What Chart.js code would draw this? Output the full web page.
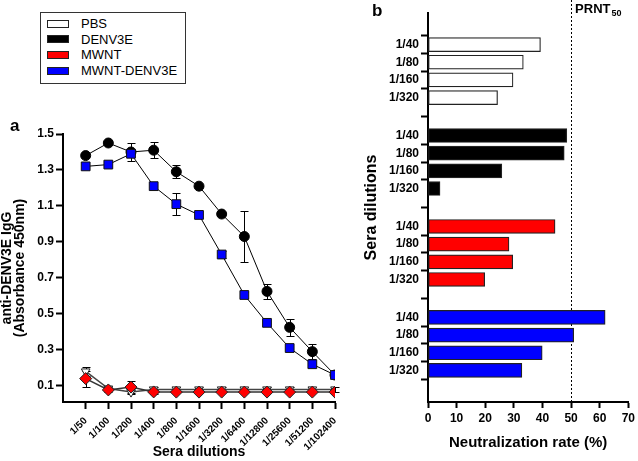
<!DOCTYPE html>
<html>
<head>
<meta charset="utf-8">
<script src="https://cdn.jsdelivr.net/npm/chart.js@4.4.1/dist/chart.umd.min.js"></script>
<style>
  body { margin: 0; width: 638px; height: 461px; background: #fff; position: relative; overflow: hidden;
         font-family: 'Liberation Sans', Arial, sans-serif; }
  #wrapA { position: absolute; left: 0; top: 0; width: 370px; height: 461px; }
  #wrapB { position: absolute; left: 362px; top: 0; width: 276px; height: 461px; }
  .panel { position: absolute; font-weight: bold; font-size: 17px; line-height: 17px; }
  #legend { position: absolute; left: 40px; top: 12px; width: 144px; height: 70px; border: 1px solid #333;
            font-size: 13px; background: #fff; }
  #legend .row { position: absolute; left: 6px; height: 16px; line-height: 16px; white-space: nowrap; }
  #legend .sw { display: inline-block; width: 20px; height: 6px; border: 1px solid #222; vertical-align: middle;
                margin-right: 12px; position: relative; top: -1px; }
</style>
</head>
<body>
<div id="wrapA"><canvas id="chartA"></canvas></div>
<div id="wrapB"><canvas id="chartB"></canvas></div>
<div class="panel" style="left:10px; top:117px;">a</div>
<div class="panel" style="left:372px; top:2px;">b</div>
<div id="legend"></div>

<script>
// ---- data, panel a (ELISA) ----
const dilutions = ['1/50', '1/100', '1/200', '1/400', '1/800', '1/1600', '1/3200', '1/6400',
                   '1/12800', '1/25600', '1/51200', '1/102400'];
const denv3e = [1.38, 1.45, 1.40, 1.41, 1.29, 1.21, 1.055, 0.93, 0.625, 0.425, 0.29, 0.16];
const denv3eErr = [0, 0, 0.05, 0.045, 0.037, 0, 0, 0.14, 0.04, 0.046, 0.042, 0];
const mwntDenv3e = [1.32, 1.33, 1.39, 1.21, 1.11, 1.05, 0.83, 0.605, 0.45, 0.31, 0.22, 0.16];
const mwntDenv3eErr = [0, 0, 0, 0, 0.06, 0, 0.02, 0.015, 0, 0, 0, 0];
const pbs = [0.18, 0.085, 0.065, 0.08, 0.08, 0.08, 0.08, 0.08, 0.08, 0.08, 0.08, 0.08];
const pbsErr = [0.025, 0.01, 0.01, 0.012, 0.012, 0.012, 0.012, 0.012, 0.012, 0.012, 0.012, 0.012];
const mwnt = [0.14, 0.077, 0.093, 0.066, 0.065, 0.065, 0.065, 0.065, 0.065, 0.065, 0.065, 0.065];
const mwntErr = [0.045, 0.01, 0.035, 0.01, 0, 0, 0, 0, 0, 0, 0, 0];
const yTicksA = [0.1, 0.3, 0.5, 0.7, 0.9, 1.1, 1.3, 1.5];

// ---- data, panel b (PRNT) ----
const groups = ['PBS', 'DENV3E', 'MWNT', 'MWNT-DENV3E'];
const groupColors = ['#ffffff', '#000000', '#ff0000', '#0000ff'];
const prntDilutions = ['1/40', '1/80', '1/160', '1/320'];
const neutPBS = [39.3, 33.3, 29.7, 24.3];
const neutDENV3E = [48.5, 47.6, 25.8, 4.2];
const neutMWNT = [44.4, 28.3, 29.6, 19.8];
const neutMWNTDENV3E = [61.9, 50.9, 39.9, 32.8];
const prntCutoff = 50;

Chart.defaults.font.family = "'Liberation Sans', Arial, sans-serif";
Chart.defaults.color = '#000';

// legend (shared by both panels)
var legendHtml = '';
groups.forEach(function (g, i) {
    legendHtml += '<div class="row" style="top:' + (3 + i * 15.7) + 'px"><span class="sw" style="background:' +
        groupColors[i] + '"></span>' + g + '</div>';
});
document.getElementById('legend').innerHTML = legendHtml;

const pts = (arr) => arr.map((v, i) => ({ x: i, y: v }));

const errorBars = {
    id: 'errorBars',
    beforeDatasetsDraw(chart) {
        const ctx = chart.ctx;
        const ys = chart.scales.y;
        ctx.save();
        ctx.lineWidth = 1;
        ctx.strokeStyle = '#000';
        chart.data.datasets.forEach((ds, di) => {
            if (!ds.errors) return;
            chart.getDatasetMeta(di).data.forEach((pt, i) => {
                const e = ds.errors[i];
                if (!e) return;
                const v = ds.data[i].y;
                const top = Math.round(ys.getPixelForValue(v + e)) + 0.5;
                const bot = Math.round(ys.getPixelForValue(v - e)) + 0.5;
                const x = Math.round(pt.x) + 0.5;
                ctx.beginPath();
                ctx.moveTo(x, top); ctx.lineTo(x, bot);
                ctx.moveTo(x - 4, top); ctx.lineTo(x + 4, top);
                ctx.moveTo(x - 4, bot); ctx.lineTo(x + 4, bot);
                ctx.stroke();
            });
        });
        ctx.restore();
    }
};

const axisGrid = {
    drawOnChartArea: false,
    drawTicks: true,
    tickLength: 7,
    tickWidth: 2,
    tickColor: '#000'
};

new Chart(document.getElementById('chartA').getContext('2d'), {
    type: 'line',
    data: {
        datasets: [
            {
                label: 'MWNT', data: pts(mwnt), errors: mwntErr, order: 1,
                borderColor: '#333', borderWidth: 1.5, pointStyle: 'rectRot', pointRadius: 6,
                pointBackgroundColor: '#ff0000', pointBorderColor: '#222', pointBorderWidth: 1
            },
            {
                label: 'PBS', data: pts(pbs), errors: pbsErr, order: 2,
                borderColor: '#444', borderWidth: 1.5, pointStyle: 'triangle', pointRotation: 180, pointRadius: 5,
                pointBackgroundColor: '#ffffff', pointBorderColor: '#222', pointBorderWidth: 1
            },
            {
                label: 'MWNT-DENV3E', data: pts(mwntDenv3e), errors: mwntDenv3eErr, order: 3,
                borderColor: '#000', borderWidth: 1, pointStyle: 'rect', pointRadius: 6.2,
                pointBackgroundColor: '#0000ff', pointBorderColor: '#111', pointBorderWidth: 1
            },
            {
                label: 'DENV3E', data: pts(denv3e), errors: denv3eErr, order: 4,
                borderColor: '#000', borderWidth: 1, pointStyle: 'circle', pointRadius: 5,
                pointBackgroundColor: '#000', pointBorderColor: '#000', pointBorderWidth: 1
            }
        ]
    },
    options: {
        responsive: true,
        maintainAspectRatio: false,
        animation: false,
        layout: { padding: { top: 134, left: 0, right: 35, bottom: 0 } },
        scales: {
            x: {
                type: 'linear',
                min: -1,
                max: 11,
                afterBuildTicks: (s) => { s.ticks = dilutions.map((d, i) => ({ value: i })); },
                afterFit: (s) => { s.height = 59; },
                ticks: {
                    autoSkip: false,
                    maxRotation: 45,
                    minRotation: 45,
                    padding: 6,
                    font: { size: 10, weight: 'bold' },
                    callback: (v, i) => dilutions[i]
                },
                grid: axisGrid,
                border: { color: '#000', width: 2 },
                title: {
                    display: true,
                    text: 'Sera dilutions',
                    font: { size: 14, weight: 'bold' },
                    padding: { top: 0, bottom: 0 }
                }
            },
            y: {
                min: 0.01,
                max: 1.5,
                afterBuildTicks: (s) => { s.ticks = yTicksA.map((v) => ({ value: v })); },
                afterFit: (s) => { s.width = 63; },
                ticks: {
                    padding: 2,
                    font: { size: 12, weight: 'bold' },
                    callback: (v) => v.toFixed(1)
                },
                grid: axisGrid,
                border: { color: '#000', width: 2 },
                title: {
                    display: true,
                    text: ['anti-DENV3E IgG', '(Absorbance 450nm)'],
                    font: { size: 14, weight: 'bold', lineHeight: 0.93 },
                    padding: { top: 1, bottom: 0 }
                }
            }
        },
        plugins: {
            legend: { display: false },
            tooltip: { enabled: false }
        }
    },
    plugins: [errorBars]
});

// ---- panel b ----
const groupStep = 5.15;
const rowPos = (g, r) => g * groupStep + r;
const neutSeries = [neutPBS, neutDENV3E, neutMWNT, neutMWNTDENV3E];
const rowTicks = [];
const rowLabels = [];
groups.forEach((g, gi) => {
    prntDilutions.forEach((d, ri) => {
        rowTicks.push(rowPos(gi, ri));
        rowLabels.push(d);
    });
});

const prntLine = {
    id: 'prntLine',
    beforeDatasetsDraw(chart) {
        const ctx = chart.ctx;
        const x = Math.round(chart.scales.x.getPixelForValue(prntCutoff)) + 0.5;
        ctx.save();
        ctx.strokeStyle = '#000';
        ctx.lineWidth = 1;
        ctx.setLineDash([2, 2]);
        ctx.beginPath();
        ctx.moveTo(x, 0);
        ctx.lineTo(x, chart.chartArea.bottom);
        ctx.stroke();
        ctx.restore();
    },
    afterDraw(chart) {
        const ctx = chart.ctx;
        const x = chart.scales.x.getPixelForValue(prntCutoff) + 4;
        ctx.save();
        ctx.fillStyle = '#000';
        ctx.textBaseline = 'alphabetic';
        ctx.font = "bold 13px 'Liberation Sans', Arial, sans-serif";
        ctx.fillText('PRNT', x, 13);
        const w = ctx.measureText('PRNT').width;
        ctx.font = "bold 9px 'Liberation Sans', Arial, sans-serif";
        ctx.fillText('50', x + w + 1, 16);
        ctx.restore();
    }
};

new Chart(document.getElementById('chartB').getContext('2d'), {
    type: 'bar',
    data: {
        datasets: groups.map((g, gi) => ({
            label: g,
            data: neutSeries[gi].map((v, ri) => ({ x: v, y: rowPos(gi, ri) })),
            backgroundColor: groupColors[gi],
            borderColor: '#222',
            borderWidth: 1.2,
            borderSkipped: false,
            barThickness: 14,
            grouped: false
        }))
    },
    options: {
        indexAxis: 'y',
        responsive: true,
        maintainAspectRatio: false,
        animation: false,
        layout: { padding: { top: 13, left: 0, right: 8, bottom: 0 } },
        scales: {
            x: {
                type: 'linear',
                min: 0,
                max: 70,
                ticks: { stepSize: 10, padding: 3, font: { size: 12, weight: 'bold' } },
                afterFit: (s) => { s.height = 59; },
                grid: Object.assign({}, axisGrid, { tickLength: 6 }),
                border: { color: '#000', width: 2 },
                title: {
                    display: true,
                    text: 'Neutralization rate (%)',
                    font: { size: 15, weight: 'bold' },
                    padding: { top: 0, bottom: 9 }
                }
            },
            y: {
                type: 'linear',
                reverse: true,
                min: -1.1,
                max: 3 * groupStep + 3 + 1.1,
                afterBuildTicks: (s) => { s.ticks = rowTicks.map((v) => ({ value: v })); },
                afterFit: (s) => { s.width = 66; },
                ticks: {
                    padding: 2,
                    font: { size: 12, weight: 'bold' },
                    callback: (v, i) => rowLabels[i]
                },
                grid: axisGrid,
                border: { color: '#000', width: 2 },
                title: {
                    display: true,
                    text: 'Sera dilutions',
                    font: { size: 16, weight: 'bold' },
                    padding: { top: 0, bottom: 0 }
                }
            }
        },
        plugins: {
            legend: { display: false },
            tooltip: { enabled: false }
        }
    },
    plugins: [prntLine]
});
</script>
</body>
</html>
